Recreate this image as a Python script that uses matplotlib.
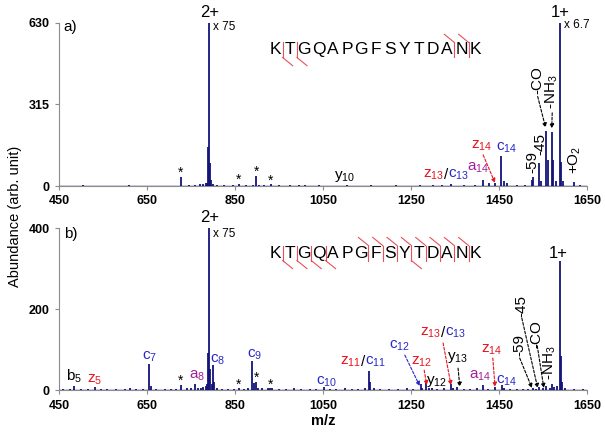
import matplotlib
matplotlib.use('Agg')
import matplotlib.pyplot as plt

plt.rcParams['font.family'] = ['Liberation Sans', 'DejaVu Sans']
plt.rcParams['mathtext.default'] = 'regular'

sequence = 'KTGQAPGFSYTDANK'

# panel a) peak list (m/z, abundance)
top_mz = [470, 505, 540, 575, 610, 640, 680, 700, 727, 745, 760, 770, 778, 783, 786, 789, 791, 793, 795,
          800, 810, 825, 845, 858, 875, 890, 898, 905, 915, 931, 950, 975, 995, 1010, 1040, 1065, 1105,
          1130, 1160, 1190, 1215, 1240, 1270, 1300, 1320, 1342, 1370, 1395, 1413, 1428, 1441, 1455, 1462,
          1469, 1490, 1510, 1524, 1527, 1542, 1545, 1558, 1561, 1570, 1573, 1580, 1588, 1591, 1595, 1620, 1635]
top_ab = [2, 3, 2, 2, 3, 2, 2, 2, 35, 3, 5, 6, 8, 10, 12, 150, 630, 90, 25,
          8, 4, 3, 3, 8, 3, 4, 40, 5, 3, 9, 3, 3, 4, 3, 3, 2, 4,
          2, 3, 2, 3, 2, 3, 3, 4, 9, 4, 3, 23, 10, 11, 117, 20,
          10, 3, 4, 25, 36, 88, 20, 212, 100, 207, 100, 20, 630, 94, 20, 15, 3]

# panel b) peak list (m/z, abundance)
bot_mz = [460, 475, 484, 500, 515, 532, 545, 560, 580, 600, 612, 625, 640, 655, 658, 670, 690, 705, 715,
          727, 740, 750, 759, 765, 772, 778, 783, 786, 789, 791, 794, 797, 801, 803, 810, 820, 835, 848,
          859, 870, 880, 889, 893, 897, 903, 912, 925, 930, 935, 950, 965, 985, 1000, 1020, 1035, 1052,
          1065, 1080, 1100, 1115, 1130, 1145, 1155, 1157, 1165, 1180, 1200, 1220, 1240, 1255, 1272, 1276,
          1284, 1290, 1297, 1310, 1325, 1342, 1346, 1354, 1370, 1385, 1400, 1413, 1425, 1442, 1456, 1462,
          1475, 1490, 1505, 1515, 1528, 1535, 1542, 1550, 1558, 1565, 1571, 1575, 1582, 1588, 1590, 1594,
          1600, 1620, 1640]
bot_ab = [3, 4, 12, 3, 4, 9, 3, 3, 4, 3, 6, 4, 3, 64, 10, 4, 3, 4, 3,
          13, 5, 6, 15, 6, 7, 8, 10, 15, 93, 400, 52, 15, 63, 20, 6, 4, 4, 4,
          6, 4, 5, 72, 18, 22, 6, 5, 6, 7, 5, 4, 3, 5, 4, 3, 4, 9,
          4, 3, 5, 3, 4, 6, 49, 20, 6, 3, 4, 3, 5, 4, 15, 6,
          18, 5, 6, 4, 5, 15, 6, 8, 4, 3, 5, 13, 4, 8, 13, 5,
          4, 3, 4, 3, 5, 4, 8, 5, 10, 6, 17, 8, 10, 319, 85, 20,
          5, 4, 3]

xticks = [450, 650, 850, 1050, 1250, 1450, 1650]
top_yticks = [0, 315, 630]
bot_yticks = [0, 200, 400]

top_lower_cuts = [0, 1]
top_upper_cuts = [12, 13]
bot_lower_cuts = [0, 1, 2, 3, 9]
bot_upper_cuts = [6, 7, 8, 9, 10, 11, 12, 13]

NAVY = '#12127a'
RED = '#e8141e'
BLUE = '#2828c8'
PURPLE = '#a0209a'
GRAY = '#8c8c8c'


def setup(ax, yticks):
    ax.set_xlim(450, 1650)
    ax.set_ylim(0, yticks[-1])
    for s in ['top', 'right']:
        ax.spines[s].set_visible(False)
    for s in ['left', 'bottom']:
        ax.spines[s].set_color(GRAY)
    ax.tick_params(colors=GRAY, length=3, width=0.8)
    ax.set_xticks(xticks, labels=[str(v) for v in xticks], fontweight='bold', fontsize=9, color='black')
    ax.set_yticks(yticks, labels=[str(v) for v in yticks], fontweight='bold', fontsize=9, color='black')


def spectrum(ax, mz, ab):
    ax.axhline(0, color=NAVY, lw=1.0, zorder=3)
    ax.vlines(mz, 0, ab, color=NAVY, lw=1.3, zorder=3)


def lab(ax, x, y, s, c='black', size=11, rot=0):
    ax.text(x, y, s, color=c, fontsize=size, ha='center', va='center', rotation=rot)


def split(ax, x, y, left, right, size=11):
    ax.annotate(left, (x, y), xytext=(-1.5, 0), textcoords='offset points', ha='right', va='center',
                color=RED, fontsize=size)
    ax.annotate('/', (x, y), ha='center', va='center', fontsize=size)
    ax.annotate(right, (x, y), xytext=(1.5, 0), textcoords='offset points', ha='left', va='center',
                color=BLUE, fontsize=size)


def arrow(ax, start, end, c='black'):
    ax.annotate('', xy=end, xytext=start,
                arrowprops=dict(arrowstyle='-|>', color=c, lw=0.8, ls=(0, (2.5, 1.5)),
                                mutation_scale=6, shrinkA=0, shrinkB=0))


def peptide(ax, yc, lower, upper):
    x0, dx = 0.410, 0.0271
    h, ddx, ddy = 0.046, 0.019, 0.05
    for i, ch in enumerate(sequence):
        ax.text(x0 + i * dx, yc, ch, transform=ax.transAxes, ha='center', va='center', fontsize=12.5)
    kw = dict(transform=ax.transAxes, color='#e8505a', lw=0.8, clip_on=False)
    for i in sorted(set(lower) | set(upper)):
        xc = x0 + (i + 0.5) * dx
        ax.plot([xc, xc], [yc - h, yc + h], **kw)
        if i in lower:
            ax.plot([xc, xc + ddx], [yc - h, yc - h - ddy], **kw)
        if i in upper:
            ax.plot([xc - ddx, xc], [yc + h + ddy, yc + h], **kw)


fig = plt.figure(figsize=(6.05, 4.32), dpi=100)
ax1 = fig.add_axes([0.0975, 0.5694, 0.8727, 0.3785])
ax2 = fig.add_axes([0.0975, 0.0961, 0.8727, 0.3761])

# ---- panel a)
setup(ax1, top_yticks)
spectrum(ax1, top_mz, top_ab)
ax1.text(461, 614, 'a)', fontsize=11, va='center')
lab(ax1, 793, 669, '2+', size=12)
ax1.text(800, 614, 'x 75', fontsize=8.5, va='center')
lab(ax1, 1589, 669, '1+', size=12)
ax1.text(1598, 622, 'x 6.7', fontsize=8.5, va='center')
for x, y in [(727, 50), (858, 23), (898, 54), (931, 20)]:
    lab(ax1, x, y, '*', size=10)
lab(ax1, 1100, 35, r'y$_{10}$')
split(ax1, 1329, 42, r'z$_{13}$', r'c$_{13}$')
lab(ax1, 1402, 70, r'a$_{14}$', PURPLE)
lab(ax1, 1411, 155, r'z$_{14}$', RED)
arrow(ax1, (1414, 120), (1441, 12), RED)
lab(ax1, 1467, 147, r'c$_{14}$', BLUE)
lab(ax1, 1525, 93, '-59', rot=90)
lab(ax1, 1543, 160, '-45', rot=90)
lab(ax1, 1537, 410, '-CO', rot=90)
arrow(ax1, (1538, 345), (1556, 225))
lab(ax1, 1570, 365, r'-NH$_3$', rot=90)
arrow(ax1, (1571, 282), (1570, 222))
lab(ax1, 1623, 100, r'+O$_2$', rot=90)
peptide(ax1, 0.832, top_lower_cuts, top_upper_cuts)

# ---- panel b)
setup(ax2, bot_yticks)
spectrum(ax2, bot_mz, bot_ab)
ax2.text(461, 386, 'b)', fontsize=11, va='center')
lab(ax2, 793, 426, '2+', size=12)
ax2.text(800, 386, 'x 75', fontsize=8.5, va='center')
lab(ax2, 1584, 337, '1+', size=12)
lab(ax2, 485, 36, r'b$_5$')
lab(ax2, 532, 26, r'z$_5$', RED)
lab(ax2, 657, 82, r'c$_7$', BLUE)
lab(ax2, 764, 36, r'a$_8$', PURPLE)
lab(ax2, 811, 75, r'c$_8$', BLUE)
lab(ax2, 895, 87, r'c$_9$', BLUE)
for x, y in [(727, 23), (859, 14), (898, 31), (930, 14)]:
    lab(ax2, x, y, '*', size=10)
lab(ax2, 1059, 21, r'c$_{10}$', BLUE)
split(ax2, 1141, 70, r'z$_{11}$', r'c$_{11}$')
lab(ax2, 1225, 109, r'c$_{12}$', BLUE)
arrow(ax2, (1236, 87), (1270, 11), BLUE)
lab(ax2, 1275, 70, r'z$_{12}$', RED)
arrow(ax2, (1280, 50), (1286, 13), RED)
lab(ax2, 1309, 23, r'y$_{12}$')
split(ax2, 1323, 141, r'z$_{13}$', r'c$_{13}$')
arrow(ax2, (1323, 117), (1341, 13), RED)
lab(ax2, 1355, 80, r'y$_{13}$')
arrow(ax2, (1357, 55), (1361, 9))
lab(ax2, 1407, 36, r'a$_{14}$', PURPLE)
lab(ax2, 1434, 100, r'z$_{14}$', RED)
arrow(ax2, (1436, 80), (1441, 9), RED)
lab(ax2, 1468, 23, r'c$_{14}$', BLUE)
lab(ax2, 1497, 112, '-59', rot=90)
arrow(ax2, (1497, 80), (1525, 6))
lab(ax2, 1502, 207, '-45', rot=90)
arrow(ax2, (1502, 178), (1538, 6))
lab(ax2, 1536, 139, '-CO', rot=90)
arrow(ax2, (1537, 110), (1552, 6))
lab(ax2, 1566, 68, r'-NH$_3$', rot=90)
peptide(ax2, 0.846, bot_lower_cuts, bot_upper_cuts)
ax2.set_xlabel('m/z', fontweight='bold', fontsize=10.5, labelpad=2)

fig.text(0.025, 0.5, 'Abundance (arb. unit)', rotation=90, va='center', ha='center', fontsize=10.5)

fig.savefig('out.png', dpi=100)
